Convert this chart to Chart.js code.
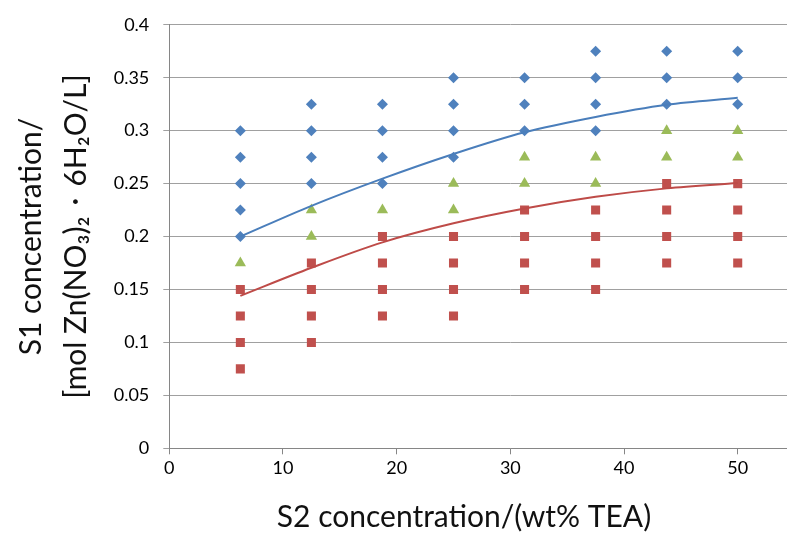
<!DOCTYPE html>
<html>
<head>
<meta charset="utf-8">
<script src="https://cdn.jsdelivr.net/npm/chart.js@4.4.0/dist/chart.umd.min.js"></script>
<style>
  html, body { margin: 0; padding: 0; background: #fff; overflow: hidden; }
</style>
</head>
<body>
<canvas id="chart" width="880" height="536"></canvas>
<script>
// S2 levels (wt% TEA) used in the experiment grid
const s2Levels = [6.25, 12.5, 18.75, 25, 31.25, 37.5, 43.75, 50];

// S1 concentrations at each S2 level, per outcome
const blueS1 = [
  [0.2, 0.225, 0.25, 0.275, 0.3],
  [0.25, 0.275, 0.3, 0.325],
  [0.25, 0.275, 0.3, 0.325],
  [0.275, 0.3, 0.325, 0.35],
  [0.3, 0.325, 0.35],
  [0.3, 0.325, 0.35, 0.375],
  [0.325, 0.35, 0.375],
  [0.325, 0.35, 0.375],
];
const greenS1 = [
  [0.175],
  [0.2, 0.225],
  [0.225],
  [0.225, 0.25],
  [0.25, 0.275],
  [0.25, 0.275],
  [0.275, 0.3],
  [0.275, 0.3],
];
const redS1 = [
  [0.075, 0.1, 0.125, 0.15],
  [0.1, 0.125, 0.15, 0.175],
  [0.125, 0.15, 0.175, 0.2],
  [0.125, 0.15, 0.175, 0.2],
  [0.15, 0.175, 0.2, 0.225],
  [0.15, 0.175, 0.2, 0.225],
  [0.175, 0.2, 0.225, 0.25],
  [0.175, 0.2, 0.225, 0.25],
];

// boundary curves at each S2 level
const blueTrend = [0.200, 0.229, 0.2547, 0.278, 0.2985, 0.313, 0.3245, 0.331];
const redTrend = [0.144, 0.1705, 0.1945, 0.2125, 0.2265, 0.2375, 0.2455, 0.2505];

const xTitle = 'S2 concentration/(wt% TEA)';
const yTitle = ['S1 concentration/', '[mol Zn(NO\u2083)\u2082\u30fb6H\u2082O/L]'];

const toPoints = cols => s2Levels.flatMap((x, i) => cols[i].map(y => ({ x, y })));
const toLine = vals => s2Levels.map((x, i) => ({ x, y: vals[i] }));

const FONT = 'Lato, "Open Sans", sans-serif';

// x title sits left of the plot centre in the original, so it is placed by hand
const xTitlePlugin = {
  id: 'xTitle',
  afterDraw(chart) {
    const ctx = chart.ctx;
    ctx.save();
    ctx.font = '30px ' + FONT;
    ctx.fillStyle = '#111';
    ctx.textAlign = 'center';
    ctx.textBaseline = 'alphabetic';
    ctx.fillText(xTitle, 464, 527);
    ctx.restore();
  }
};

new Chart(document.getElementById('chart'), {
  type: 'scatter',
  data: {
    datasets: [
      {
        label: 'upper boundary',
        data: toLine(blueTrend),
        showLine: true,
        borderColor: '#4A7EBB',
        borderWidth: 2,
        pointRadius: 0,
        cubicInterpolationMode: 'monotone',
        order: 0,
      },
      {
        label: 'lower boundary',
        data: toLine(redTrend),
        showLine: true,
        borderColor: '#BE4B48',
        borderWidth: 2,
        pointRadius: 0,
        cubicInterpolationMode: 'monotone',
        order: 0,
      },
      {
        label: 'blue',
        data: toPoints(blueS1),
        pointStyle: 'rectRot',
        pointRadius: 5.5,
        pointBorderWidth: 0,
        backgroundColor: '#4F81BD',
        borderColor: '#4F81BD',
        order: 1,
      },
      {
        label: 'green',
        data: toPoints(greenS1),
        pointStyle: 'triangle',
        pointRadius: 6.5,
        pointBorderWidth: 0,
        backgroundColor: '#9BBB59',
        borderColor: '#9BBB59',
        order: 1,
      },
      {
        label: 'red',
        data: toPoints(redS1),
        pointStyle: 'rect',
        pointRadius: 6.4,
        pointBorderWidth: 0,
        backgroundColor: '#C0504D',
        borderColor: '#C0504D',
        order: 1,
      },
    ],
  },
  options: {
    responsive: false,
    animation: false,
    layout: { padding: { left: 0, top: 20.7, right: 28.6, bottom: 0 } },
    plugins: { legend: { display: false }, tooltip: { enabled: false } },
    scales: {
      x: {
        type: 'linear',
        min: 0,
        max: 60,
        ticks: { stepSize: 10, padding: 3, color: '#000', font: { family: FONT, size: 18 } },
        grid: { drawOnChartArea: false, drawTicks: true, tickLength: 6, color: '#868686' },
        border: { color: '#868686', width: 1 },
        afterFit: s => { s.height = 87.7; },
      },
      y: {
        min: 0,
        max: 0.4,
        ticks: {
          stepSize: 0.05,
          padding: 14,
          color: '#000',
          font: { family: FONT, size: 18 },
          callback: v => String(+v.toFixed(2)),
        },
        grid: { color: '#A0A0A0', tickLength: 6 },
        border: { color: '#868686', width: 1 },
        title: {
          display: true,
          text: yTitle,
          color: '#111',
          font: { family: FONT, size: 30, lineHeight: 1.5 },
          padding: { top: 8.5, bottom: 0 },
        },
        afterFit: s => { s.width = 169.3; },
      },
    },
  },
  plugins: [xTitlePlugin],
});
</script>
</body>
</html>
